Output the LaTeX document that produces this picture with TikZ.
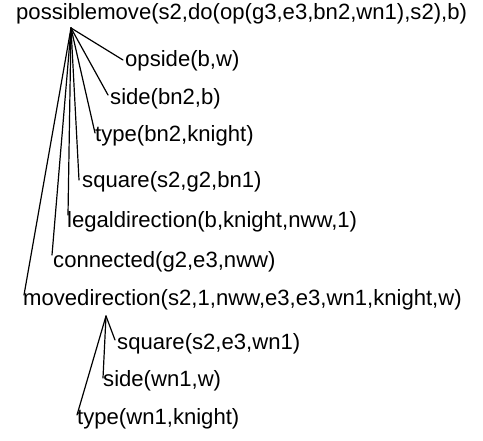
\documentclass[tikz,border=0pt]{standalone}
\usepackage{fontspec}
\setmainfont{Liberation Sans}
\begin{document}
\begin{tikzpicture}[x=1pt,y=-1pt,
  goal/.style={anchor=base west,inner sep=0pt,font=\fontsize{22.1}{26}\selectfont},
  link/.style={line width=1.2pt,line cap=round,line join=round}]
\useasboundingbox[fill=white] (0,0) rectangle (483,441);

% goals of the proof tree
\node[goal] (root) at (16,20) {possiblemove(s2,do(op(g3,e3,bn2,wn1),s2),b)};
\node[goal] (opside) at (125,67) {opside(b,w)};
\node[goal] (side1) at (110,105) {side(bn2,b)};
\node[goal] (type1) at (95,142) {type(bn2,knight)};
\node[goal] (square1) at (82,188) {square(s2,g2,bn1)};
\node[goal] (legal) at (67,228) {legaldirection(b,knight,nww,1)};
\node[goal] (conn) at (53,268) {connected(g2,e3,nww)};
\node[goal] (movedir) at (23,306) {movedirection(s2,1,nww,e3,e3,wn1,knight,w)};
\node[goal] (square2) at (117,350) {square(s2,e3,wn1)};
\node[goal] (side2) at (103,387) {side(wn1,w)};
\node[goal] (type2) at (77,425) {type(wn1,knight)};

% branching points under the parent goals
\coordinate (rootapex) at (71,28);
\coordinate (mdapex) at (106,316);

% entry points just left of each subgoal
\foreach \n/\dx/\dy in {opside/-2/7, side1/-2/10, type1/0/9, square1/-3/8,
                        legal/1/13, conn/-1/13, movedir/1/11,
                        square2/-2/10, side2/0/9, type2/0/10}
  \coordinate (\n-in) at ([shift={(\dx pt,\dy pt)}]\n.base west);

\foreach \n in {opside,side1,type1,square1,legal,conn,movedir}
  \draw[link] (rootapex) -- (\n-in);
\foreach \n in {square2,side2,type2}
  \draw[link] (mdapex) -- (\n-in);
\end{tikzpicture}
\end{document}
